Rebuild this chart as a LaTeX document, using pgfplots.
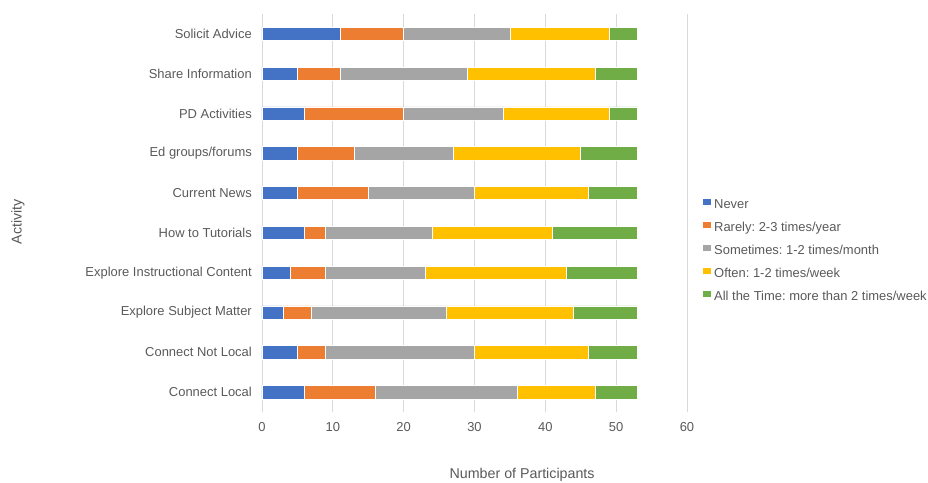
\documentclass[border=0pt]{standalone}
\usepackage{pgfplots}
\pgfplotsset{compat=1.18}
\usepackage{fontspec}
\setmainfont{Liberation Sans}
\frenchspacing

\definecolor{cNever}{HTML}{4472C4}
\definecolor{cRarely}{HTML}{ED7D31}
\definecolor{cSometimes}{HTML}{A5A5A5}
\definecolor{cOften}{HTML}{FFC000}
\definecolor{cAll}{HTML}{70AD47}
\definecolor{textgray}{HTML}{595959}
\definecolor{gridgray}{HTML}{D9D9D9}

\begin{document}
\begin{tikzpicture}
\useasboundingbox (-262bp,-71bp) rectangle (666bp,412bp);
\begin{axis}[
  scale only axis,
  width=425bp, height=398bp,
  xbar stacked,
  bar width=13.3bp,
  xmin=0, xmax=60,
  ymin=-0.5, ymax=9.5,
  xtick={0,10,...,60},
  ytick={0,...,9},
  yticklabels={Connect Local, Connect Not Local, Explore Subject Matter,
    Explore Instructional Content, How to Tutorials, Current News,
    Ed groups/forums, PD Activities, Share Information, Solicit Advice},
  axis line style={draw=none},
  major tick length=0pt,
  xmajorgrids,
  grid style={draw=gridgray, line width=0.75bp},
  font=\fontsize{13}{15}\selectfont,
  /pgf/number format/assume math mode=true,
  ticklabel style={text=textgray},
  xticklabel style={anchor=center, yshift=-15bp},
  yticklabel style={anchor=east, inner sep=0pt, xshift=-10bp},
  xlabel={Number of Participants},
  ylabel={Activity},
  label style={font=\fontsize{14.3}{16}\selectfont, text=textgray},
  xlabel style={at={(axis description cs:0.612,-0.1583)}, anchor=center},
  ylabel style={at={(axis description cs:-0.574,0.4786)}, anchor=center},
  every axis plot/.append style={draw=white, line width=0.5bp},
  legend image code/.code={\fill[#1, draw=none] (0bp,0bp) rectangle (7.5bp,6bp);},
  legend cell align=left,
  legend style={at={(rel axis cs:1.0376,0.4047)}, anchor=west,
    draw=none, fill=none, inner sep=0pt, text=textgray,
    font=\fontsize{13}{15}\selectfont,
    nodes={inner sep=0pt, text height=9.5bp, text depth=3bp},
    row sep=10.5bp,
    /tikz/every odd column/.append style={column sep=3.5bp}},
]
% Never
\addplot[fill=cNever] coordinates {(6,0) (5,1) (3,2) (4,3) (6,4) (5,5) (5,6) (6,7) (5,8) (11,9)};
% Rarely
\addplot[fill=cRarely] coordinates {(10,0) (4,1) (4,2) (5,3) (3,4) (10,5) (8,6) (14,7) (6,8) (9,9)};
% Sometimes
\addplot[fill=cSometimes] coordinates {(20,0) (21,1) (19,2) (14,3) (15,4) (15,5) (14,6) (14,7) (18,8) (15,9)};
% Often
\addplot[fill=cOften] coordinates {(11,0) (16,1) (18,2) (20,3) (17,4) (16,5) (18,6) (15,7) (18,8) (14,9)};
% All the Time
\addplot[fill=cAll] coordinates {(6,0) (7,1) (9,2) (10,3) (12,4) (7,5) (8,6) (4,7) (6,8) (4,9)};
\legend{Never, Rarely: 2-3 times/year, Sometimes: 1-2 times/month,
  Often: 1-2 times/week, All the Time: more than 2 times/week}
\end{axis}
\end{tikzpicture}
\end{document}
